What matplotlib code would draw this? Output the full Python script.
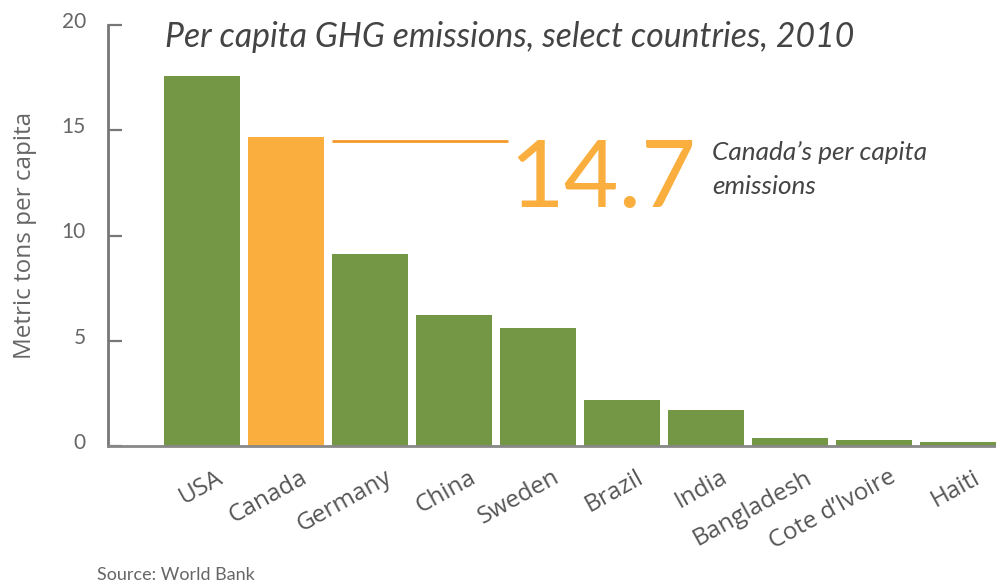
import matplotlib
matplotlib.use("Agg")
import matplotlib.pyplot as plt
import matplotlib.transforms as mtrans

# Per capita GHG emissions, 2010 (World Bank)
countries = ["USA", "Canada", "Germany", "China", "Sweden", "Brazil",
             "India", "Bangladesh", "Cote d\u2019Ivoire", "Haiti"]
emissions = [17.6, 14.7, 9.1, 6.2, 5.6, 2.2, 1.7, 0.4, 0.3, 0.2]
highlight = "Canada"
yticks = [0, 5, 10, 15, 20]

green = "#739745"
orange = "#faae3e"
grey = "#555555"

plt.rcParams['font.family'] = ['Lato', 'DejaVu Sans']

fig = plt.figure(figsize=(9.96, 5.85), dpi=100)
ax = fig.add_axes([108 / 996, (585 - 446) / 585, 1 - 108 / 996, (446 - 25) / 585])

x = list(range(len(countries)))
colors = [orange if c == highlight else green for c in countries]
ax.bar(x, emissions, width=0.905, color=colors, zorder=2)

ax.set_xlim(-1.12, 9.45)
ax.set_ylim(0, 20)

for s in ["top", "right"]:
    ax.spines[s].set_visible(False)
ax.spines["left"].set_color("#777777")
ax.spines["left"].set_linewidth(2)
ax.spines["bottom"].set_color("#888888")
ax.spines["bottom"].set_linewidth(2)
ax.spines["bottom"].set_zorder(3)

ax.set_yticks(yticks)
ax.set_yticklabels([str(v) for v in yticks], fontsize=15, color="#666666")
ax.tick_params(axis="y", direction="in", length=10, width=1.6,
               color="#777777", pad=16)
up = mtrans.ScaledTranslation(0, 5 / 100, fig.dpi_scale_trans)
for lab in ax.get_yticklabels():
    lab.set_transform(lab.get_transform() + up)

ax.set_xticks(x)
ax.set_xticklabels(countries, rotation=29, ha="right", rotation_mode="anchor",
                   fontsize=17.5, color=grey, family="Open Sans")
ax.tick_params(axis="x", length=0, pad=14)
shift = mtrans.ScaledTranslation(14 / 100, 0, fig.dpi_scale_trans)
for lab in ax.get_xticklabels():
    lab.set_transform(lab.get_transform() + shift)

ax.set_ylabel("Metric tons per capita", fontsize=17.5, color="#666666",
              labelpad=18, family="Open Sans")

# title
fig.text(165 / 996, 1 - 37 / 585, "Per capita GHG emissions, select countries, 2010",
         fontsize=24.3, style="italic", color="#444444", va="center", ha="left")

# Canada callout
canada_val = emissions[countries.index(highlight)]
ax.plot([1.55, 3.64], [canada_val - 0.22, canada_val - 0.22], color="#f5992e",
        lw=2, solid_capstyle="butt", zorder=3)
ax.text(3.66, canada_val - 0.1, f"{canada_val}", fontsize=68, color=orange,
        va="top", ha="left")
ax.text(6.07, canada_val - 0.2, "Canada\u2019s per capita\nemissions", fontsize=18.8,
        style="italic", color="#444444", va="top", ha="left", linespacing=1.6)

fig.text(97 / 996, 1 - 575 / 585, "Source: World Bank", fontsize=13,
         color="#666666", va="center", ha="left")

fig.savefig("out.png", dpi=100)
